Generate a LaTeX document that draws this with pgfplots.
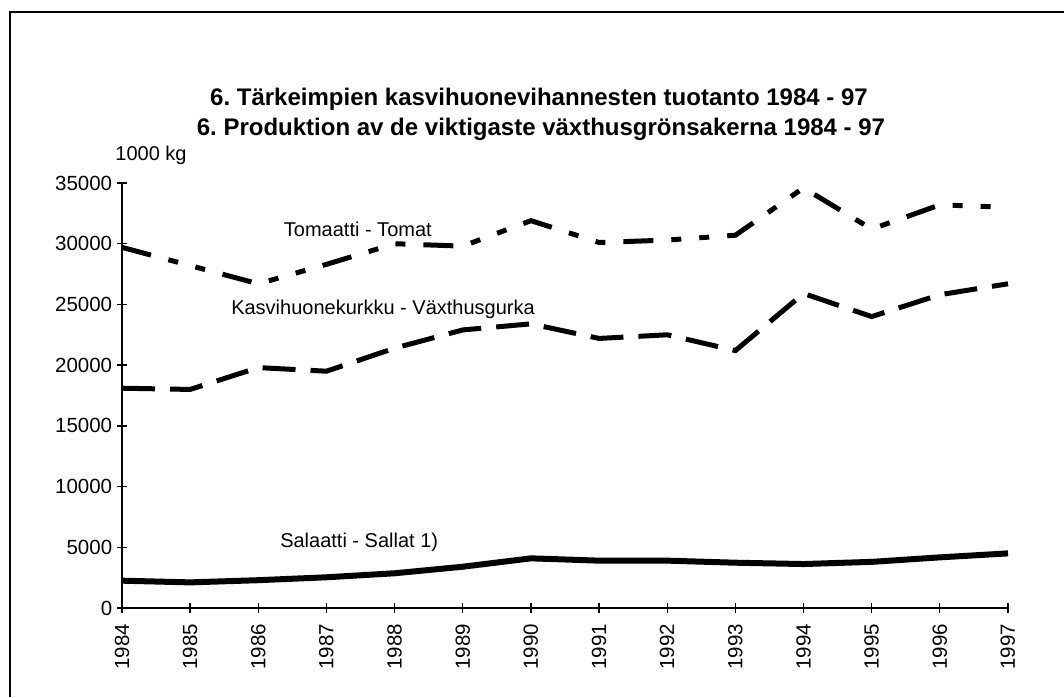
\documentclass[border=0pt]{standalone}
\usepackage{fontspec}
\setmainfont{Liberation Sans}
\usepackage{pgfplots}
\pgfplotsset{compat=1.18}
\begin{document}
\frenchspacing
\fontsize{20}{24}\selectfont
\begin{tikzpicture}[x=1pt,y=1pt]
\useasboundingbox (0,0) rectangle (1064,697);
\draw[line width=1.5pt] (10,0) -- (10,685) -- (1064,685);
\node[font=\bfseries\fontsize{24}{28}\selectfont] at (539,598) {6. Tärkeimpien kasvihuonevihannesten tuotanto 1984 - 97};
\node[font=\bfseries\fontsize{24}{28}\selectfont] at (541,568) {6. Produktion av de viktigaste växthusgrönsakerna 1984 - 97};
\node at (151,542) {1000 kg};
\begin{axis}[
  at={(122pt,89pt)}, anchor=south west,
  scale only axis, width=886pt, height=425pt,
  xmin=1984, xmax=1997, ymin=0, ymax=35000,
  axis x line*=bottom, axis y line*=left,
  axis line style={line width=1.3pt},
  tick style={line width=1.3pt, black},
  tick align=center, major tick length=10pt,
  xtick={1984,...,1997},
  ytick={0,5000,...,35000},
  scaled y ticks=false,
  /pgf/number format/1000 sep={},
  /pgf/number format/assume math mode=true,
  ticklabel style={font=\fontsize{20.5}{24}\selectfont},
  xticklabel style={rotate=90, anchor=east, xshift=-4pt},
  yticklabel style={xshift=2pt},
  clip=false,
]
\addplot[line width=5pt, black, line cap=butt, dash pattern=on 30pt off 18pt on 10pt off 18pt on 10pt off 18pt] coordinates {
(1984,29700) (1985,28200) (1986,26700) (1987,28300) (1988,30000) (1989,29800) (1990,31900)
(1991,30100) (1992,30300) (1993,30700) (1994,34600) (1995,31200) (1996,33200) (1997,33000)};
\addplot[line width=5pt, black, line cap=butt, dash pattern=on 33pt off 15pt] coordinates {
(1984,18100) (1985,18000) (1986,19800) (1987,19500) (1988,21400) (1989,22900) (1990,23400)
(1991,22200) (1992,22500) (1993,21200) (1994,25900) (1995,24000) (1996,25800) (1997,26700)};
\addplot[line width=6pt, black] coordinates {
(1984,2250) (1985,2110) (1986,2290) (1987,2530) (1988,2860) (1989,3400) (1990,4090)
(1991,3900) (1992,3900) (1993,3730) (1994,3620) (1995,3800) (1996,4170) (1997,4500)};
\node at (axis cs:1987.46,31210) {Tomaatti - Tomat};
\node at (axis cs:1987.83,24620) {Kasvihuonekurkku - Växthusgurka};
\node at (axis cs:1987.48,5435) {Salaatti - Sallat 1)};
\end{axis}
\end{tikzpicture}
\end{document}
